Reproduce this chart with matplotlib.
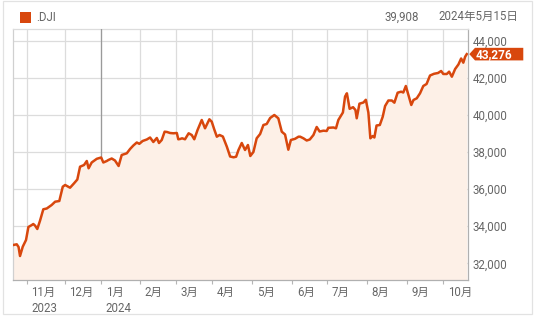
import matplotlib

matplotlib.use("Agg")
import matplotlib.pyplot as plt
import numpy as np
from matplotlib.patches import Polygon, Rectangle
from matplotlib.transforms import ScaledTranslation, blended_transform_factory

plt.rcParams["font.family"] = ["Roboto", "Noto Sans CJK JP", "DejaVu Sans"]

# x = trading days counted from 1 Nov 2023, y = index level
DAYS = [
    -7.4, -5.5, -4.5, -3.7, -2.2, -0.4, 0.9, 2.8, 3.6, 4.6, 5.8, 7.3, 9.1, 11.0,
    12.4, 13.7, 15.6, 17.9, 19.8, 21.1, 23.8, 26.0, 27.8, 29.3, 31.5, 33.0, 34.0,
    35.7, 38.5, 40.9, 42.1, 44.0, 44.9, 46.7, 48.5, 50.5, 52.2, 55.0, 56.8, 58.6,
    60.5, 61.9, 63.7, 66.0, 67.8, 69.6, 71.5, 72.7, 74.2, 75.8, 77.1, 78.8, 80.6,
    82.5, 83.3, 84.3, 85.4, 87.0, 89.0, 90.7, 92.1, 93.9, 96.2, 98.0, 100.4, 101.7,
    103.0, 104.5, 106.0, 107.8, 110.0, 111.8, 113.7, 115.1, 116.4, 118.2, 120.0,
    121.6, 122.9, 124.6, 126.4, 128.3, 130.1, 131.9, 133.8, 136.1, 138.3, 140.2,
    142.0, 143.8, 145.2, 147.5, 149.4, 150.3, 152.1, 153.9, 155.6, 157.6, 159.4,
    161.0, 163.1, 164.9, 165.8, 168.6, 170.0, 171.3, 173.8, 175.0, 176.0, 177.5,
    179.4, 180.7, 181.4, 182.9, 185.1, 186.4, 187.8, 188.9, 190.2, 191.1, 192.3,
    194.1, 195.7, 197.0, 198.8, 200.7, 202.1, 203.9, 205.8, 207.0, 208.4, 209.8,
    211.4, 212.6, 214.4, 216.2, 218.0, 219.8, 221.7, 223.9, 226.1, 227.8, 229.0,
    230.9, 232.2, 233.7, 235.5, 237.3, 238.8, 240.0, 241.0, 241.9,
]
CLOSE = [
    32986, 33024, 32878, 32393, 32895, 33256, 33957, 34064, 34118, 34027, 33849,
    34296, 34911, 34954, 35051, 35143, 35320, 35358, 36129, 36221, 36075, 36312,
    36517, 37207, 37299, 37515, 37121, 37434, 37633, 37703, 37434, 37515, 37569,
    37649, 37542, 37245, 37838, 37930, 38162, 38350, 38512, 38440, 38593, 38674,
    38781, 38539, 38755, 38485, 38647, 39094, 39078, 39024, 39008, 39024, 38685,
    38701, 38738, 38685, 39008, 38916, 38685, 39186, 39725, 39277, 39763, 39633,
    39240, 38825, 38916, 38835, 38286, 37757, 37714, 37746, 38108, 38485, 38108,
    38377, 37784, 38000, 38738, 38970, 39455, 39509, 39833, 39994, 39817, 39094,
    38943, 38124, 38647, 38711, 38825, 38825, 38738, 38620, 38674, 38916, 39348,
    39105, 39148, 39132, 39304, 39321, 39277, 39725, 40129, 40992, 41164, 40329,
    40415, 40264, 39817, 40604, 40668, 40814, 40129, 38738, 38862, 38781, 39428,
    39455, 39903, 40480, 40776, 40776, 40658, 41197, 41251, 41207, 41558, 41073,
    40534, 40803, 40895, 41164, 41558, 41666, 42124, 42216, 42259, 42367, 42205,
    42205, 42329, 42059, 42474, 42717, 43040, 42814, 43137, 43276,
]

# trading days per month, Nov 2023 .. Sep 2024
MONTH_TRADING_DAYS = [21, 20, 21, 20, 20, 22, 22, 19, 22, 22, 20]
MONTH_LABELS = ["11月\n2023", "12月", "1月\n2024", "2月", "3月", "4月", "5月",
                "6月", "7月", "8月", "9月", "10月"]
Y_TICKS = [32000, 34000, 36000, 38000, 40000, 42000, 44000]

SYMBOL = ".DJI"
HOVER_DAY = 40.9
HOVER_VALUE = "39,908"
HOVER_DATE = "2024年5月15日"

LINE = "#d8470d"
FILL = "#fdf0e7"
GRID = "#dcdcdc"
TEXT = "#666666"

month_starts = np.concatenate([[0], np.cumsum(MONTH_TRADING_DAYS)])

fig = plt.figure(figsize=(5.38, 3.19), dpi=100)
ax = fig.add_axes([0.0247, 0.1223, 0.8446, 0.7859])

ymin, ymax = 31100, 44615
ax.fill_between(DAYS, CLOSE, ymin, color=FILL, lw=0, zorder=1)
ax.plot(DAYS, CLOSE, color=LINE, lw=1.8, zorder=4, solid_joinstyle="round")

# hover crosshair
hover_y = np.interp(HOVER_DAY, DAYS, CLOSE)
ax.plot([HOVER_DAY, HOVER_DAY], [hover_y, ymax], color="#9a9a9a", lw=0.9, zorder=3)

ax.set_xlim(-7.4, 242.4)
ax.set_ylim(ymin, ymax)

ax.set_yticks(Y_TICKS)
ax.set_yticklabels([f"{v:,}" for v in Y_TICKS])
ax.yaxis.tick_right()
ax.tick_params(axis="y", length=0, pad=3.3, labelsize=8.3, labelcolor=TEXT)

ax.set_xticks(month_starts)
ax.set_xticklabels(MONTH_LABELS, linespacing=1.25)
ax.tick_params(axis="x", length=2.6, width=0.8, color="#b5b5b5", pad=2.0,
               labelsize=8.3, labelcolor=TEXT)
shift = ScaledTranslation(4.6 / 100, 0, fig.dpi_scale_trans)
for lbl in ax.get_xticklabels():
    lbl.set_horizontalalignment("left")
    lbl.set_transform(lbl.get_transform() + shift)

ax.grid(True, color=GRID, lw=0.9, zorder=0)
ax.set_axisbelow(True)
for side, col in [("left", "#d0d0d0"), ("top", GRID), ("bottom", "#b0b0b0"), ("right", "#b0b0b0")]:
    ax.spines[side].set_color(col)
    ax.spines[side].set_linewidth(0.9)

# last value tag on the right axis
last = CLOSE[-1]
anchor = ScaledTranslation(1.0, last, blended_transform_factory(ax.transAxes, ax.transData))
tag_px = np.array([(1.6, 0), (7.3, 6.3), (55.6, 6.3), (55.6, -6.3), (7.3, -6.3)]) / 100
ax.add_patch(Polygon(tag_px, closed=True, fc=LINE, ec="none", clip_on=False,
                     transform=fig.dpi_scale_trans + anchor, zorder=6))
ax.text(0, 0, f"{last:,}", color="white", fontsize=8.5, fontweight="bold",
        va="center", ha="left", clip_on=False, zorder=7,
        transform=ScaledTranslation(8.0 / 100, -0.3 / 100, fig.dpi_scale_trans) + anchor)

# header
fig.add_artist(Rectangle((20 / 538, 1 - 23 / 319), 11 / 538, 11 / 319,
                         transform=fig.transFigure, fc=LINE, ec="none"))
fig.text(36 / 538, 1 - 17.5 / 319, SYMBOL, fontsize=8.3, color=TEXT, va="center", ha="left")
fig.text(418.5 / 538, 1 - 17.5 / 319, HOVER_VALUE, fontsize=8.3, color=TEXT, va="center", ha="right")
fig.text(518.5 / 538, 1 - 16 / 319, HOVER_DATE, fontsize=8.3, color=TEXT, va="center", ha="right")

# outer frame
fig.add_artist(Rectangle((2.7 / 538, 4.7 / 319), 529 / 538, 313 / 319,
                         transform=fig.transFigure, fc="none", ec="#e2e2e2", lw=0.9))

fig.savefig("out.png", dpi=100)
